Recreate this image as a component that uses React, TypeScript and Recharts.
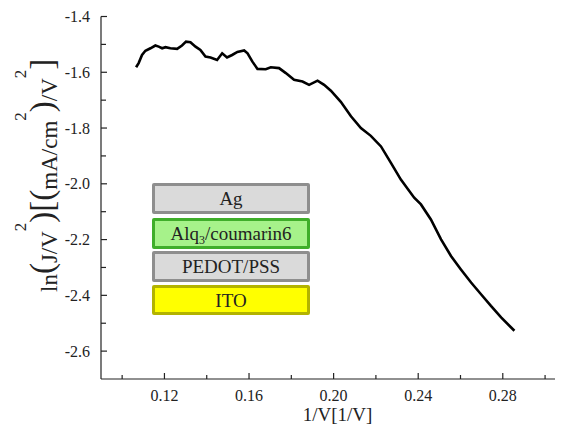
import React from 'react';
import { LineChart, Line, XAxis, YAxis } from 'recharts';

const xValues = [0.1066,0.1078,0.1094,0.1110,0.1134,0.1157,0.1173,0.1189,0.1205,0.1228,0.1260,0.1283,0.1302,0.1323,0.1347,0.1370,0.1394,0.1418,0.1449,0.1473,0.1496,0.1520,0.1545,0.1577,0.1593,0.1616,0.1640,0.1679,0.1703,0.1742,0.1774,0.1813,0.1853,0.1884,0.1924,0.1955,0.1987,0.2034,0.2082,0.2129,0.2176,0.2224,0.2271,0.2318,0.2381,0.2413,0.2460,0.2508,0.2555,0.2602,0.2650,0.2697,0.2744,0.2792,0.2855];
const yValues = [-1.582,-1.567,-1.538,-1.523,-1.514,-1.504,-1.508,-1.514,-1.510,-1.514,-1.516,-1.504,-1.490,-1.492,-1.508,-1.520,-1.544,-1.547,-1.556,-1.532,-1.547,-1.538,-1.527,-1.522,-1.532,-1.562,-1.588,-1.589,-1.582,-1.585,-1.603,-1.627,-1.633,-1.645,-1.630,-1.645,-1.666,-1.706,-1.758,-1.800,-1.828,-1.866,-1.925,-1.985,-2.050,-2.074,-2.128,-2.199,-2.259,-2.307,-2.354,-2.396,-2.438,-2.479,-2.527];

const xTicks = [0.10, 0.12, 0.14, 0.16, 0.18, 0.20, 0.22, 0.24, 0.26, 0.28, 0.30];
const xTickLabels = ['', '0.12', '', '0.16', '', '0.20', '', '0.24', '', '0.28', ''];
const yTicks = [-2.6, -2.5, -2.4, -2.3, -2.2, -2.1, -2.0, -1.9, -1.8, -1.7, -1.6, -1.5, -1.4];
const yTickLabels = ['-2.6', '', '-2.4', '', '-2.2', '', '-2.0', '', '-1.8', '', '-1.6', '', '-1.4'];

const layers = ['Ag', 'Alq3/coumarin6', 'PEDOT/PSS', 'ITO'];

const data = xValues.map((x, i) => ({ x, y: yValues[i] }));

const FONT = '"Liberation Serif", "Times New Roman", serif';

const XTick = (props: any) => {
  const { x, y, index } = props;
  const label = xTickLabels[index] ?? '';
  const major = label !== '';
  return (
    <g>
      <line x1={x} y1={y} x2={x} y2={y - (major ? 6 : 4)} stroke="#222" strokeWidth={1.2} />
      {major && (
        <text x={x} y={y + 22} textAnchor="middle" fontFamily={FONT} fontSize={16} fill="#222">
          {label}
        </text>
      )}
    </g>
  );
};

const YTick = (props: any) => {
  const { x, y, index } = props;
  const label = yTickLabels[index] ?? '';
  const major = label !== '';
  return (
    <g>
      <line x1={x} y1={y} x2={x + (major ? 6 : 5)} y2={y} stroke="#222" strokeWidth={1.2} />
      {major && (
        <text x={x - 11} y={y + 5.5} textAnchor="end" fontFamily={FONT} fontSize={16} fill="#222">
          {label}
        </text>
      )}
    </g>
  );
};

const XLabel = (props: any) => {
  const { viewBox } = props;
  return (
    <text x={viewBox.x + viewBox.width / 2 + 6} y={viewBox.y + 42} textAnchor="middle" fontFamily={FONT} fontSize={19} fill="#222">
      1/V[1/V]
    </text>
  );
};

const YLabel = () => {
  const big = 33;
  const main = 23;
  const sup = 17;
  return (
    <text transform="translate(49,284) rotate(-90)" x={0} y={0} fontFamily={FONT} fill="#222" fontSize={main}>
      <tspan fontSize={main}>ln</tspan>
      <tspan fontSize={big} dy={-4.5}>(</tspan>
      <tspan fontSize={main} dy={4.5}>J/V</tspan>
      <tspan fontSize={sup} dy={-31}>2</tspan>
      <tspan fontSize={big} dy={26.5}>)</tspan>
      <tspan fontSize={big}>[(</tspan>
      <tspan fontSize={main} dy={4.5}>mA/cm</tspan>
      <tspan fontSize={sup} dy={-31}>2</tspan>
      <tspan fontSize={big} dy={26.5}>)</tspan>
      <tspan fontSize={main} dy={4.5}>/V</tspan>
      <tspan fontSize={sup} dy={-31}>2</tspan>
      <tspan fontSize={big} dy={26.5}>]</tspan>
    </text>
  );
};

const boxStyles = [
  { top: 175, height: 31, bg: '#dadada', border: '#8e8e8e' },
  { top: 210, height: 31, bg: '#a6f28a', border: '#3fae2a' },
  { top: 243, height: 31, bg: '#dadada', border: '#8e8e8e' },
  { top: 277, height: 30, bg: '#ffff00', border: '#b3b300' },
];

const LayerText = ({ text }: { text: string }) => {
  if (text === 'Alq3/coumarin6') {
    return (
      <span>
        Alq<sub style={{ fontSize: 12, verticalAlign: 'baseline', position: 'relative', top: 4 }}>3</sub>/coumarin6
      </span>
    );
  }
  return <span>{text}</span>;
};

export default function App() {
  return (
    <div style={{ position: 'relative', width: 555, height: 417 }}>
      <LineChart width={555} height={417} data={data} margin={{ top: 8.5, right: 1, bottom: 6, left: 33 }}>
        <XAxis
          dataKey="x"
          type="number"
          domain={[0.09, 0.308]}
          ticks={xTicks}
          interval={0}
          tickSize={0}
          tickMargin={0}
          tickLine={false}
          height={40}
          axisLine={{ stroke: '#222', strokeWidth: 1.2 }}
          tick={<XTick />}
          label={<XLabel />}
          allowDataOverflow
        />
        <YAxis
          dataKey="y"
          type="number"
          domain={[-2.7, -1.4]}
          ticks={yTicks}
          interval={0}
          tickSize={0}
          tickMargin={0}
          tickLine={false}
          width={60}
          axisLine={{ stroke: '#222', strokeWidth: 1.2 }}
          tick={<YTick />}
          allowDataOverflow
        />
        <Line
          dataKey="y"
          type="linear"
          stroke="#000"
          strokeWidth={2.6}
          dot={false}
          isAnimationActive={false}
        />
      </LineChart>
      <svg width={555} height={417} style={{ position: 'absolute', left: 0, top: 0, pointerEvents: 'none' }}>
        <YLabel />
      </svg>
      {layers.map((name, i) => (
        <div
          key={name}
          style={{
            position: 'absolute',
            left: 144,
            top: boxStyles[i].top,
            width: 158,
            height: boxStyles[i].height,
            boxSizing: 'border-box',
            background: boxStyles[i].bg,
            border: `3px solid ${boxStyles[i].border}`,
            borderRadius: 2,
            display: 'flex',
            alignItems: 'center',
            justifyContent: 'center',
            fontFamily: FONT,
            fontSize: 19,
            color: '#222',
            lineHeight: 1,
          }}
        >
          <LayerText text={name} />
        </div>
      ))}
    </div>
  );
}
